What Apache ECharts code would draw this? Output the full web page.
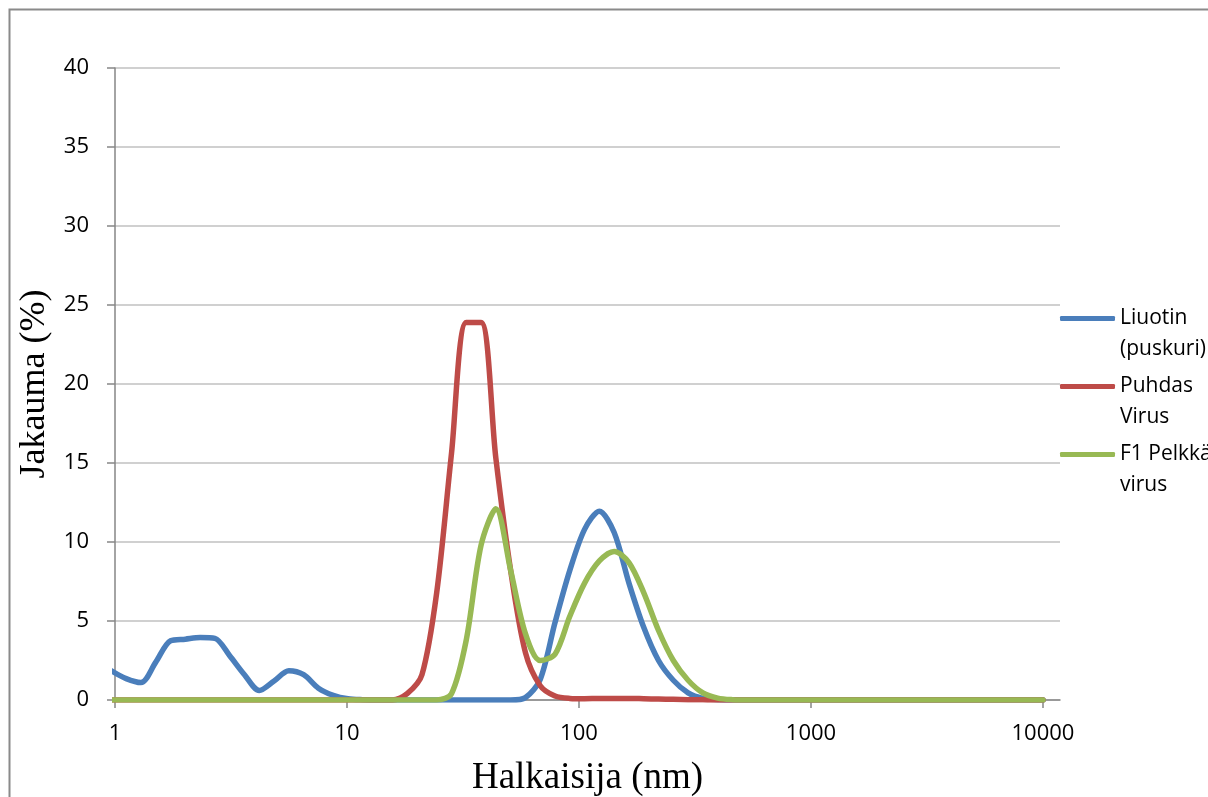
<!DOCTYPE html>
<html>
<head>
<meta charset="utf-8">
<title>Halkaisija</title>
<script src="https://cdn.jsdelivr.net/npm/echarts@6/dist/echarts.min.js"></script>
<style>
  html, body { margin: 0; padding: 0; background: #fff; }
  #main { width: 1208px; height: 797px; }
</style>
</head>
<body>
<div id="main"></div>
<script>
// koko (nm), Malvern-jako
var sizes = [0.9649, 1.117, 1.294, 1.499, 1.736, 2.010, 2.328, 2.696, 3.122, 3.615,
  4.187, 4.849, 5.615, 6.503, 7.531, 8.721, 10.10, 11.70, 13.54, 15.69,
  18.17, 21.04, 24.36, 28.21, 32.67, 37.84, 43.82, 50.75, 58.77, 68.06,
  78.82, 91.28, 105.7, 122.4, 141.8, 164.2, 190.1, 220.2, 255.0, 295.3,
  342.0, 396.1, 458.7, 531.2, 615.1, 712.4, 825.0, 955.4, 1106, 1281,
  1484, 1718, 1990, 2305, 2669, 3091, 3580, 4145, 4801, 5560,
  6439, 7456, 8635, 10000];

var liuotin = [1.85, 1.35, 1.1, 2.4, 3.75, 3.85, 3.95, 3.9, 2.8, 1.6,
  0.6, 1.2, 1.85, 1.6, 0.75, 0.3, 0.08, 0.02, 0, 0,
  0, 0, 0, 0, 0, 0, 0, 0, 0.15, 1.3,
  4.9, 8.2, 10.8, 11.95, 10.6, 7.4, 4.6, 2.5, 1.25, 0.45,
  0.1, 0.02, 0, 0, 0, 0, 0, 0, 0, 0,
  0, 0, 0, 0, 0, 0, 0, 0, 0, 0,
  0, 0, 0, 0];

var puhdas = [0, 0, 0, 0, 0, 0, 0, 0, 0, 0,
  0, 0, 0, 0, 0, 0, 0, 0, 0, 0,
  0.4, 1.6, 6.8, 15.6, 23.9, 23.9, 15.3, 8.2, 3.0, 0.9,
  0.25, 0.1, 0.08, 0.1, 0.1, 0.1, 0.08, 0.06, 0.04, 0.02,
  0.01, 0, 0, 0, 0, 0, 0, 0, 0, 0,
  0, 0, 0, 0, 0, 0, 0, 0, 0, 0,
  0, 0, 0, 0];

var f1 = [0, 0, 0, 0, 0, 0, 0, 0, 0, 0,
  0, 0, 0, 0, 0, 0, 0, 0, 0, 0,
  0, 0, 0, 0.4, 3.8, 9.8, 12.1, 8.2, 4.2, 2.5,
  2.9, 5.3, 7.4, 8.8, 9.4, 8.7, 6.8, 4.4, 2.5, 1.25,
  0.45, 0.12, 0.02, 0, 0, 0, 0, 0, 0, 0,
  0, 0, 0, 0, 0, 0, 0, 0, 0, 0,
  0, 0, 0, 0];

var seriesNames = ['Liuotin\n(puskuri)', 'Puhdas\nVirus', 'F1 Pelkkä\nvirus'];
var seriesColors = ['#4a7ebb', '#be4b48', '#98b954'];
var yTicks = [0, 5, 10, 15, 20, 25, 30, 35, 40];

function pairs(vals) {
  return sizes.map(function (s, i) { return [s, vals[i]]; });
}

var chart = echarts.init(document.getElementById('main'));
var font = '"Open Sans", Lato, sans-serif';
var serif = '"Liberation Serif", "DejaVu Serif", serif';

var option = {
  animation: false,
  backgroundColor: '#fff',
  graphic: [{
    type: 'rect',
    shape: { x: 9.5, y: 9.5, width: 1300, height: 900 },
    style: { fill: 'none', stroke: '#8a8a8a', lineWidth: 2 },
    silent: true
  }],
  grid: { left: 115, right: 148, top: 68, bottom: 97, containLabel: false, outerBoundsMode: 'none' },
  legend: {
    orient: 'vertical',
    left: 1060,
    top: 272,
    padding: 0,
    itemWidth: 55,
    itemHeight: 5,
    itemGap: -25,
    icon: 'roundRect',
    data: seriesNames,
    formatter: function (n) { return ' \n' + n; },
    textStyle: { fontFamily: font, fontSize: 21, color: '#000', lineHeight: 31 }
  },
  xAxis: {
    type: 'log',
    logBase: 10,
    min: 1,
    max: 11840,
    name: 'Halkaisija (nm)',
    nameLocation: 'middle',
    nameGap: 60,
    nameTextStyle: { fontFamily: serif, fontSize: 37, color: '#000' },
    axisLine: { lineStyle: { color: '#868686', width: 1.5 } },
    axisTick: { show: true, length: 8, lineStyle: { color: '#868686', width: 1.5 } },
    minorTick: { show: false },
    splitLine: { show: false },
    axisLabel: {
      fontFamily: font, fontSize: 22, color: '#000', margin: 23,
      formatter: function (v) { return String(Math.round(v)); }
    }
  },
  yAxis: {
    type: 'value',
    min: yTicks[0],
    max: yTicks[yTicks.length - 1],
    interval: 5,
    name: 'Jakauma (%)',
    nameLocation: 'middle',
    nameRotate: 90,
    nameGap: 59,
    nameTextStyle: { fontFamily: serif, fontSize: 36, color: '#000' },
    axisLine: { show: true, lineStyle: { color: '#868686', width: 1.5 } },
    axisTick: { show: true, length: 8, lineStyle: { color: '#868686', width: 1.5 } },
    splitLine: { show: true, lineStyle: { color: '#c0c0c0', width: 1.5 } },
    axisLabel: { fontFamily: font, fontSize: 22, color: '#000', margin: 26 }
  },
  series: [liuotin, puhdas, f1].map(function (vals, k) {
    return {
      name: seriesNames[k],
      type: 'line',
      data: pairs(vals),
      smooth: 0.3,
      showSymbol: false,
      color: seriesColors[k],
      lineStyle: { width: 5.5, color: seriesColors[k], cap: 'round', join: 'round' }
    };
  })
};

option && chart.setOption(option);
</script>
</body>
</html>
